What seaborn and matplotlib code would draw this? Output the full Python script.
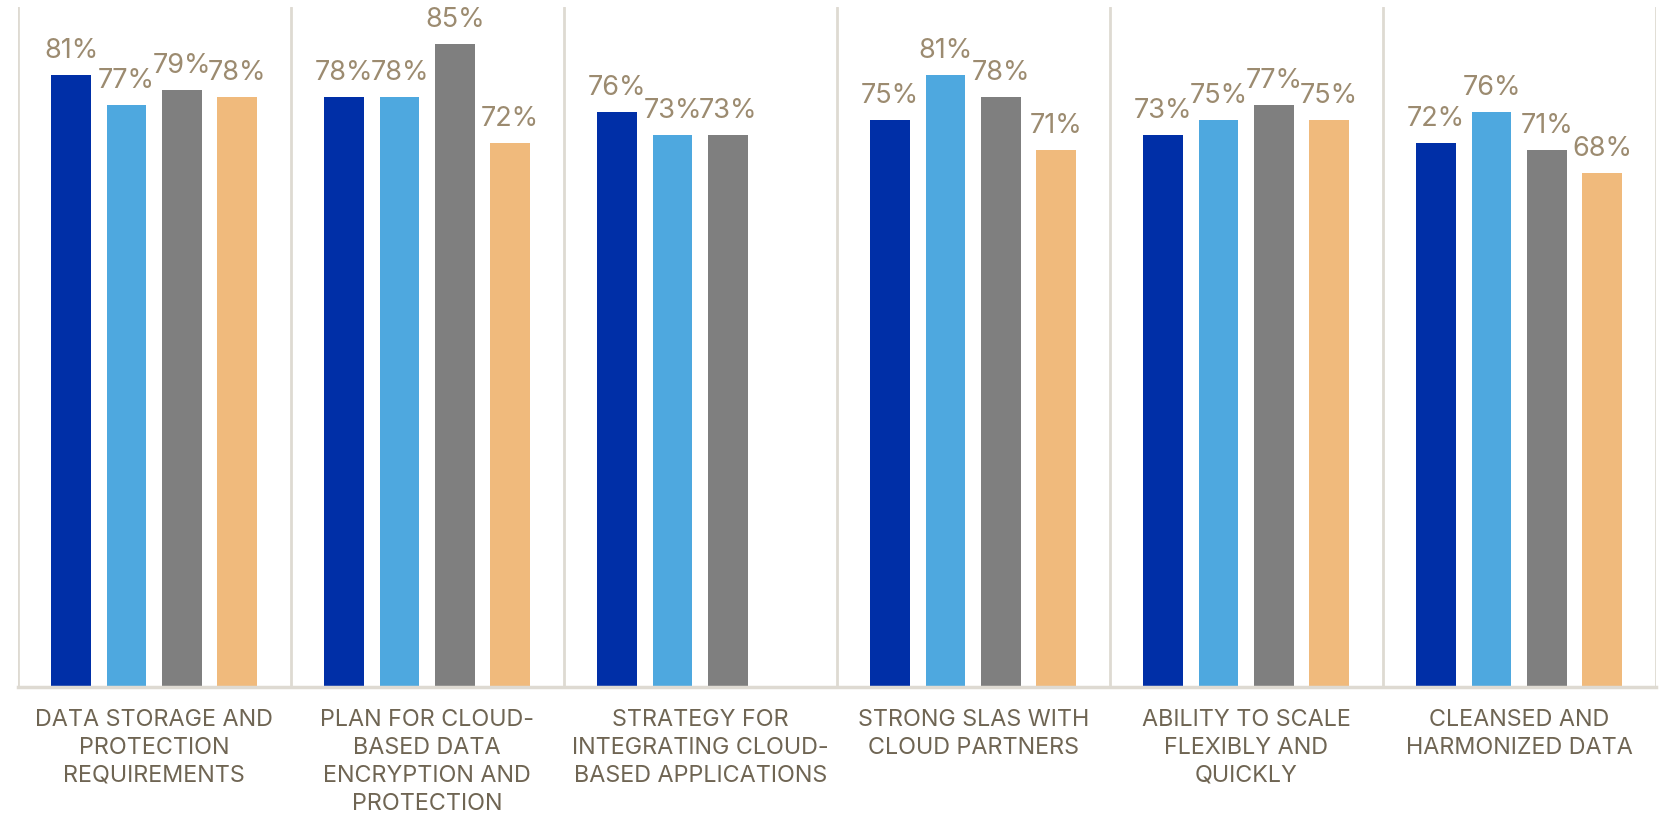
import numpy as np
import pandas as pd
import matplotlib
matplotlib.use("Agg")
import matplotlib.pyplot as plt
import seaborn as sns

# Survey results: share of respondents per capability, four respondent groups
categories = [
    "DATA STORAGE AND\nPROTECTION\nREQUIREMENTS",
    "PLAN FOR CLOUD-\nBASED DATA\nENCRYPTION AND\nPROTECTION",
    "STRATEGY FOR\nINTEGRATING CLOUD-\nBASED APPLICATIONS",
    "STRONG SLAS WITH\nCLOUD PARTNERS",
    "ABILITY TO SCALE\nFLEXIBLY AND\nQUICKLY",
    "CLEANSED AND\nHARMONIZED DATA",
]
series_names = ["Group 1", "Group 2", "Group 3", "Group 4"]
group1 = [81, 78, 76, 75, 73, 72]
group2 = [77, 78, 73, 81, 75, 76]
group3 = [79, 85, 73, 78, 77, 71]
group4 = [78, 72, np.nan, 71, 75, 68]

palette = ["#002FA7", "#4EA8DF", "#7F7F7F", "#F0BA7C"]
label_color = "#9C8B70"
cat_color = "#6F6553"
rule_color = "#DEDAD2"

rows = []
for name, vals in zip(series_names, [group1, group2, group3, group4]):
    for cat, v in zip(categories, vals):
        rows.append({"category": cat, "series": name, "value": v})
df = pd.DataFrame(rows)

sns.set_theme(style="white")
plt.rcParams["font.family"] = ["Inter", "DejaVu Sans"]

fig = plt.figure(figsize=(16.6, 8.14), dpi=100)
ax = fig.add_axes([17.7 / 1660, 1 - 686.7 / 814, (1655.7 - 17.7) / 1660, (686.7 - 6.7) / 814])

sns.barplot(
    data=df, x="category", y="value", hue="series",
    order=categories, hue_order=series_names, palette=palette,
    width=0.81, gap=0.28, errorbar=None, legend=False, ax=ax,
    linewidth=0, saturation=1,
)

for cont in ax.containers:
    ax.bar_label(cont, labels=[f"{b.get_height():.0f}%" for b in cont],
                 padding=8, fontsize=19.5, color=label_color)

ax.set_ylim(0, 90)
ax.set_xlim(-0.5, len(categories) - 0.5)
ax.set_yticks([])
ax.set_xlabel("")
ax.set_ylabel("")

# Separator rules between categories
for x in np.arange(-0.5, len(categories), 1.0):
    ax.axvline(x, color=rule_color, linewidth=2, zorder=0)

for side in ["top", "right", "left"]:
    ax.spines[side].set_visible(False)
ax.spines["bottom"].set_color(rule_color)
ax.spines["bottom"].set_linewidth(2.5)

ax.tick_params(axis="x", length=0, pad=16)
for t in ax.get_xticklabels():
    t.set_fontsize(16.8)
    t.set_color(cat_color)
    t.set_linespacing(1.35)
    t.set_verticalalignment("top")

fig.savefig("out.png", dpi=100)
